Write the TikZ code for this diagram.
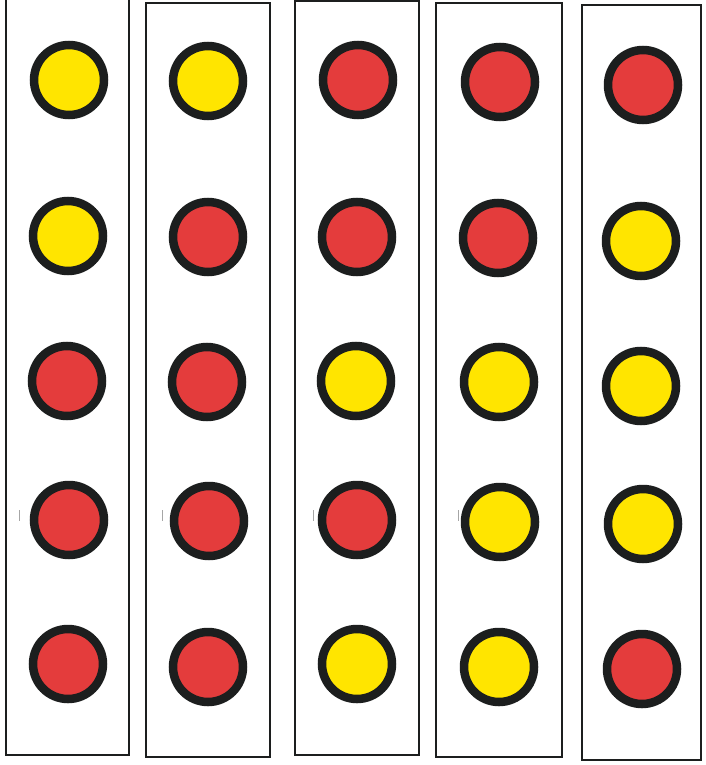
\documentclass[tikz,border=0pt]{standalone}
\definecolor{dotyellow}{RGB}{255,229,0}
\definecolor{dotred}{RGB}{228,60,60}
\definecolor{rim}{RGB}{28,30,30}
\tikzset{
  panel/.style={draw=rim, line width=2.6pt, fill=white},
  ydot/.style={circle, draw=rim, line width=8.5pt, fill=dotyellow, minimum size=70pt, inner sep=0pt},
  rdot/.style={circle, draw=rim, line width=8.5pt, fill=dotred, minimum size=70pt, inner sep=0pt},
  tick/.style={draw=gray!70, line width=1pt}
}
\begin{document}
\begin{tikzpicture}[x=1pt,y=-1pt]
\useasboundingbox[fill=white] (0,0) rectangle (705,765);
% panels
\draw[panel] (6,-2) rectangle (129,755);
\draw[panel] (146,3) rectangle (270,757);
\draw[panel] (295,1) rectangle (419,755);
\draw[panel] (436,3) rectangle (562,757);
\draw[panel] (582,5) rectangle (701,760);
% scan ticks
\draw[tick] (19,510) -- (19,521);
\draw[tick] (162,510) -- (162,521);
\draw[tick] (313,510) -- (313,521);
\draw[tick] (458,510) -- (458,521);
\draw[tick] (605,512) -- (605,523);
% column 1
\node[ydot] (a1) at (69,80) {};
\node[ydot] (a2) at (68,236) {};
\node[rdot] (a3) at (67,381) {};
\node[rdot] (a4) at (69,520) {};
\node[rdot] (a5) at (68,664) {};
% column 2
\node[ydot] (b1) at (208,81) {};
\node[rdot] (b2) at (208,237) {};
\node[rdot] (b3) at (207,382) {};
\node[rdot] (b4) at (209,521) {};
\node[rdot] (b5) at (208,667) {};
% column 3
\node[rdot] (c1) at (358,80) {};
\node[rdot] (c2) at (357,237) {};
\node[ydot] (c3) at (356,381) {};
\node[rdot] (c4) at (357,520) {};
\node[ydot] (c5) at (357,664) {};
% column 4
\node[rdot] (d1) at (500,82) {};
\node[rdot] (d2) at (498,238) {};
\node[ydot] (d3) at (499,382) {};
\node[ydot] (d4) at (500,522) {};
\node[ydot] (d5) at (499,667) {};
% column 5
\node[rdot] (e1) at (643,85) {};
\node[ydot] (e2) at (641,241) {};
\node[ydot] (e3) at (641,386) {};
\node[ydot] (e4) at (643,524) {};
\node[rdot] (e5) at (642,669) {};
\end{tikzpicture}
\end{document}
